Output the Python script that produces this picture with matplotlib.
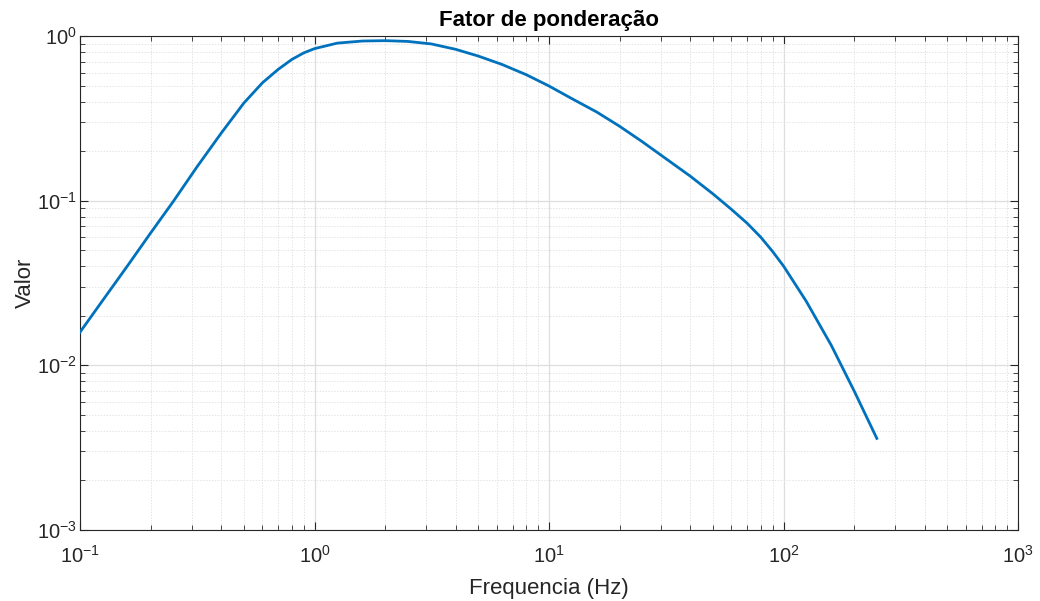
import matplotlib
matplotlib.use("Agg")
import matplotlib.pyplot as plt
from matplotlib.ticker import LogLocator, NullFormatter

plt.rcParams['font.family'] = ['Liberation Sans', 'DejaVu Sans']
plt.rcParams['mathtext.fontset'] = 'custom'
plt.rcParams['mathtext.rm'] = 'Liberation Sans'
plt.rcParams['mathtext.it'] = 'Liberation Sans'
plt.rcParams['mathtext.default'] = 'regular'
plt.rcParams['axes.unicode_minus'] = False

freq = [0.1, 0.125, 0.16, 0.2, 0.25, 0.315, 0.4, 0.5, 0.6, 0.7, 0.8, 0.9,
        1.0, 1.25, 1.6, 2.0, 2.5, 3.15, 4.0, 5.0, 6.3, 8.0, 10.0, 12.5, 16.0,
        20.0, 25.0, 31.5, 40.0, 50.0, 60.0, 70.0, 80.0, 90.0, 100.0, 125.0,
        160.0, 200.0, 250.0]
valor = [0.0159, 0.0248, 0.0405, 0.0636, 0.099, 0.16, 0.257, 0.392, 0.52,
         0.627, 0.72, 0.79, 0.838, 0.905, 0.932, 0.937, 0.927, 0.895, 0.83,
         0.755, 0.672, 0.582, 0.497, 0.417, 0.345, 0.283, 0.228, 0.18, 0.141,
         0.110, 0.0885, 0.0729, 0.060, 0.049, 0.0401, 0.0245, 0.0132, 0.0070,
         0.0036]

title = "Fator de ponderação"
xlabel = "Frequencia (Hz)"
ylabel = "Valor"

fig = plt.figure(figsize=(10.4, 6.01), dpi=100)
ax = fig.add_axes([80/1040, 71/601, 938/1040, 494/601])
ax.loglog(freq, valor, color='#0072BD', lw=2.0, zorder=3,
          solid_joinstyle='round')
ax.set_xlim(0.1, 1000)
ax.set_ylim(1e-3, 1)

ax.xaxis.set_major_locator(LogLocator(base=10, numticks=10))
ax.yaxis.set_major_locator(LogLocator(base=10, numticks=10))
ax.xaxis.set_minor_locator(LogLocator(base=10, subs=range(2, 10), numticks=20))
ax.yaxis.set_minor_locator(LogLocator(base=10, subs=range(2, 10), numticks=20))
ax.xaxis.set_minor_formatter(NullFormatter())
ax.yaxis.set_minor_formatter(NullFormatter())

ax.grid(True, which='major', color='#dedede', lw=0.9, ls='-', zorder=0)
ax.grid(True, which='minor', color='#e4e4e4', lw=0.7, ls=(0, (1.5, 1.5)), zorder=0)

ax.tick_params(which='both', direction='in', top=True, right=True,
               colors='#262626', labelcolor='#262626')
ax.tick_params(which='major', length=6, width=0.8, labelsize=14.5)
ax.tick_params(which='minor', length=3.5, width=0.6)
ax.tick_params(axis='x', which='major', pad=11)
ax.tick_params(axis='y', which='major', pad=2)
for s in ax.spines.values():
    s.set_color('#262626')
    s.set_linewidth(0.8)

ax.set_title(title, fontsize=16, fontweight='bold', color='black', pad=7)
ax.set_xlabel(xlabel, fontsize=16, color='#262626', labelpad=8)
ax.set_ylabel(ylabel, fontsize=16, color='#262626', labelpad=1)

fig.savefig("out.png", dpi=100, facecolor='white')
